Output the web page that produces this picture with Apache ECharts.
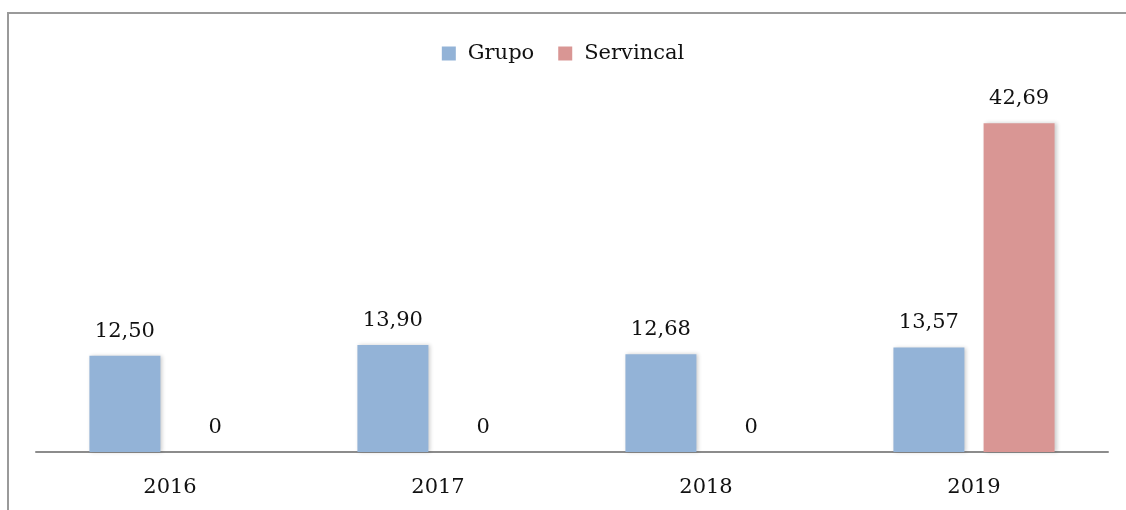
<!DOCTYPE html>
<html>
<head>
<meta charset="utf-8">
<script src="https://cdn.jsdelivr.net/npm/echarts@6/dist/echarts.min.js"></script>
<style>
  html, body { margin: 0; padding: 0; background: #fff; }
  #chart { width: 1126px; height: 510px; }
</style>
</head>
<body>
<div id="chart"></div>
<script>
const years = ['2016', '2017', '2018', '2019'];
const grupo = [12.50, 13.90, 12.68, 13.57];
const servincal = [0, 0, 0, 42.69];

const font = '"DejaVu Serif", serif';
const fmt = p => p.value === 0 ? '0' : p.value.toFixed(2).replace('.', ',');

// grafico
let chart = echarts.init(document.getElementById('chart'));
chart.setOption({
  animation: false,
  graphic: [{
    type: 'rect',
    shape: { x: 8, y: 13, width: 1140, height: 520 },
    style: { fill: 'none', stroke: '#9a9a9a', lineWidth: 2 }
  }],
  legend: {
    top: 38,
    left: 'center',
    itemWidth: 14,
    itemHeight: 14,
    itemGap: 24,
    icon: 'rect',
    textStyle: { fontFamily: font, fontSize: 21, color: '#111', padding: [0, 0, 0, 7] },
    data: ['Grupo', 'Servincal']
  },
  grid: { left: 36, right: 18, top: 67, bottom: 58 },
  xAxis: {
    type: 'category',
    data: years,
    axisLine: { lineStyle: { color: '#8c8c8c', width: 2 } },
    axisTick: { show: false },
    axisLabel: { margin: 25, fontFamily: font, fontSize: 21, color: '#111' }
  },
  yAxis: { type: 'value', min: 0, max: 50, show: false },
  series: [{
    name: 'Grupo',
    type: 'bar',
    data: grupo,
    barWidth: 71,
    barGap: '27%',
    itemStyle: { color: '#93b3d7', shadowBlur: 4, shadowOffsetX: 2, shadowColor: 'rgba(0,0,0,0.2)' },
    label: { show: true, position: 'top', distance: 14, formatter: fmt, fontFamily: font, fontSize: 21, color: '#111' }
  }, {
    name: 'Servincal',
    type: 'bar',
    data: servincal,
    barWidth: 71,
    itemStyle: { color: '#d99694', shadowBlur: 4, shadowOffsetX: 2, shadowColor: 'rgba(0,0,0,0.2)' },
    label: { show: true, position: 'top', distance: 14, formatter: fmt, fontFamily: font, fontSize: 21, color: '#111' }
  }]
});
</script>
</body>
</html>
